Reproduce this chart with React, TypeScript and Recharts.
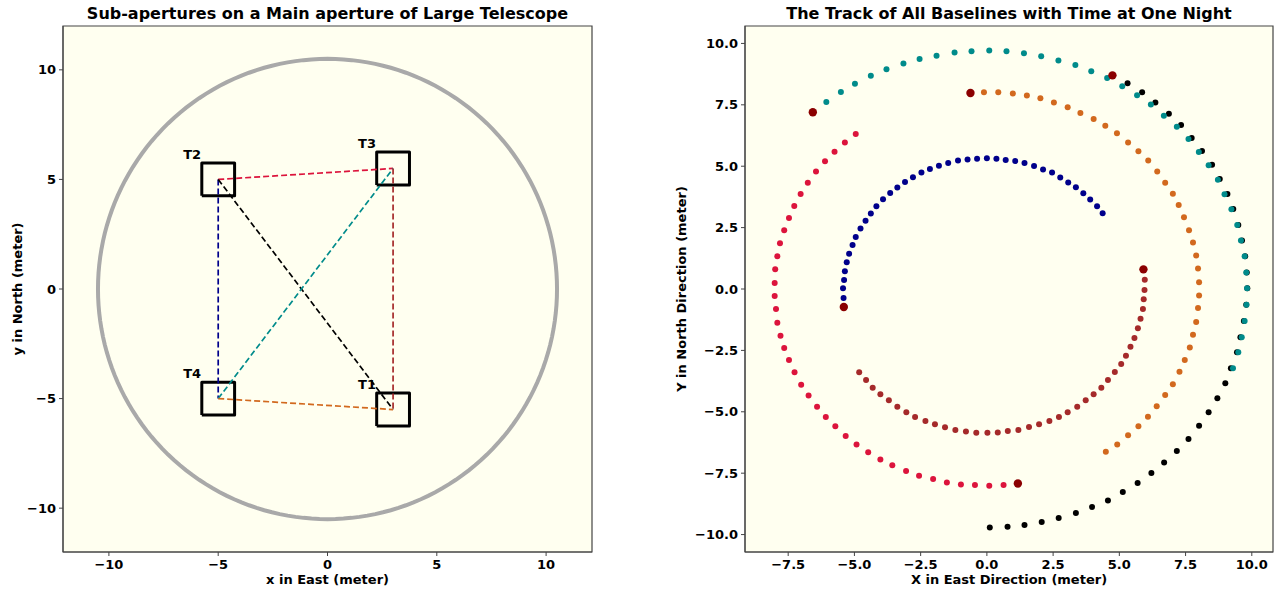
import React from "react"
import { ScatterChart, Scatter, XAxis, YAxis, CartesianGrid, ReferenceArea, Label } from "recharts"

type Pt = [number, number]

// ---- left panel: telescope layout (meters) ----
const telescopeNames = ["T1", "T2", "T3", "T4"]
const telescopeX = [3, -5, 3, -5]
const telescopeY = [-5.5, 5, 5.5, -5]
const subApertureSize = 1.5
const mainApertureRadius = 10.5
const tagOffset: Pt = [-1.6, 0.95]

// baseline pairs (indices into the telescope arrays) and their colours
const baselinePairs: Pt[] = [[1, 3], [1, 2], [1, 0], [3, 2], [2, 0], [3, 0]]
const baselineColors = ["#00008b", "#dc143c", "#000000", "#008b8b", "#a52a2a", "#d2691e"]

const layoutTicks = [-10, -5, 0, 5, 10]

// ---- right panel: baseline tracks over the night (meters) ----
const tealTrack: Pt[] = [
  [-6.06, 7.62], [-5.51, 8.02], [-4.98, 8.36], [-4.38, 8.68], [-3.79, 8.95], [-3.15, 9.18], [-2.54, 9.37],
  [-1.9, 9.5], [-1.22, 9.63], [-0.58, 9.68], [0.09, 9.71], [0.74, 9.68], [1.4, 9.6], [2.05, 9.48],
  [2.7, 9.31], [3.34, 9.12], [3.94, 8.87], [4.54, 8.59], [5.11, 8.26], [5.67, 7.89], [6.19, 7.51],
  [6.68, 7.06], [7.17, 6.61], [7.61, 6.11], [8.0, 5.58], [8.37, 5.04], [8.72, 4.45], [8.97, 3.86],
  [9.23, 3.25], [9.45, 2.61], [9.59, 1.97], [9.73, 1.33], [9.79, 0.67], [9.82, 0.03], [9.8, -0.64],
  [9.73, -1.3], [9.62, -1.96], [9.49, -2.58], [9.29, -3.23],
]
const blackTrack: Pt[] = [
  [5.31, 8.38], [5.86, 8.01], [6.36, 7.59], [6.87, 7.14], [7.33, 6.68], [7.73, 6.15], [8.12, 5.62],
  [8.5, 5.06], [8.79, 4.48], [9.08, 3.87], [9.3, 3.26], [9.49, 2.61], [9.63, 1.97], [9.75, 1.33],
  [9.81, 0.67], [9.83, 0.03], [9.79, -0.64], [9.7, -1.3], [9.57, -1.96], [9.44, -2.58], [9.21, -3.23],
  [9.0, -3.84], [8.7, -4.45], [8.37, -5.02], [8.01, -5.57], [7.61, -6.11], [7.17, -6.6], [6.69, -7.07],
  [6.21, -7.49], [5.69, -7.9], [5.13, -8.27], [4.57, -8.61], [3.97, -8.88], [3.36, -9.12], [2.71, -9.33],
  [2.07, -9.49], [1.42, -9.61], [0.78, -9.68], [0.11, -9.71],
]
const orangeTrack: Pt[] = [
  [-0.11, 8.01], [0.43, 8.01], [0.98, 7.96], [1.51, 7.88], [2.02, 7.77], [2.53, 7.59], [3.05, 7.4],
  [3.53, 7.17], [4.03, 6.92], [4.47, 6.65], [4.91, 6.34], [5.33, 5.97], [5.72, 5.61], [6.09, 5.23],
  [6.43, 4.78], [6.73, 4.33], [7.02, 3.88], [7.24, 3.42], [7.44, 2.92], [7.63, 2.39], [7.78, 1.89],
  [7.9, 1.36], [7.97, 0.83], [8.01, 0.27], [8.01, -0.26], [7.97, -0.77], [7.9, -1.34], [7.78, -1.86],
  [7.66, -2.38], [7.47, -2.89], [7.27, -3.37], [7.02, -3.88], [6.73, -4.32], [6.41, -4.77], [6.08, -5.2],
  [5.72, -5.59], [5.33, -5.96], [4.92, -6.33], [4.49, -6.63],
]
const blueTrack: Pt[] = [
  [-5.41, -0.37], [-5.43, 0.03], [-5.39, 0.37], [-5.36, 0.72], [-5.29, 1.09], [-5.2, 1.44], [-5.07, 1.79],
  [-4.95, 2.12], [-4.77, 2.46], [-4.58, 2.78], [-4.38, 3.07], [-4.17, 3.37], [-3.92, 3.65], [-3.65, 3.91],
  [-3.38, 4.13], [-3.09, 4.36], [-2.79, 4.55], [-2.47, 4.74], [-2.15, 4.89], [-1.81, 5.02], [-1.46, 5.13],
  [-1.09, 5.23], [-0.73, 5.27], [-0.37, 5.3], [0.0, 5.32], [0.36, 5.3], [0.71, 5.25], [1.07, 5.21],
  [1.42, 5.13], [1.78, 5.01], [2.12, 4.87], [2.46, 4.74], [2.77, 4.54], [3.07, 4.34], [3.36, 4.14],
  [3.64, 3.9], [3.9, 3.64], [4.16, 3.37], [4.37, 3.08],
]
const crimsonTrack: Pt[] = [
  [-4.95, 6.31], [-5.36, 5.97], [-5.75, 5.59], [-6.11, 5.2], [-6.45, 4.78], [-6.76, 4.33], [-7.03, 3.87],
  [-7.27, 3.38], [-7.47, 2.89], [-7.65, 2.39], [-7.81, 1.86], [-7.91, 1.33], [-7.99, 0.8], [-8.01, 0.24],
  [-8.01, -0.29], [-7.96, -0.81], [-7.91, -1.37], [-7.79, -1.9], [-7.65, -2.4], [-7.47, -2.89], [-7.26, -3.39],
  [-7.01, -3.9], [-6.73, -4.34], [-6.41, -4.79], [-6.08, -5.21], [-5.72, -5.59], [-5.33, -5.99], [-4.92, -6.33],
  [-4.48, -6.65], [-4.02, -6.94], [-3.57, -7.18], [-3.05, -7.41], [-2.56, -7.6], [-2.03, -7.74], [-1.51, -7.88],
  [-0.98, -7.96], [-0.45, -7.98], [0.09, -8.01], [0.63, -7.98],
]
const brownTrack: Pt[] = [
  [-4.82, -3.39], [-4.56, -3.71], [-4.31, -4.02], [-4.02, -4.29], [-3.7, -4.53], [-3.38, -4.79], [-3.04, -5.02],
  [-2.71, -5.21], [-2.32, -5.38], [-1.96, -5.51], [-1.58, -5.63], [-1.19, -5.74], [-0.79, -5.8], [-0.4, -5.85],
  [0.02, -5.85], [0.41, -5.84], [0.79, -5.78], [1.19, -5.74], [1.59, -5.62], [1.97, -5.51], [2.36, -5.38],
  [2.72, -5.21], [3.05, -5.02], [3.41, -4.79], [3.73, -4.53], [4.03, -4.29], [4.32, -4.02], [4.57, -3.71],
  [4.83, -3.38], [5.07, -3.05], [5.25, -2.72], [5.42, -2.35], [5.57, -2.0], [5.7, -1.6], [5.8, -1.21],
  [5.89, -0.81], [5.92, -0.42], [5.95, -0.04], [5.96, 0.38],
]
// end-of-night position of each baseline
const trackEnds: Pt[] = [[-6.57, 7.2], [4.74, 8.7], [-0.62, 7.98], [-5.4, -0.73], [1.17, -7.92], [5.91, 0.8]]

const trackXTicks = [-7.5, -5, -2.5, 0, 2.5, 5, 7.5, 10]
const trackYTicks = [-10, -7.5, -5, -2.5, 0, 2.5, 5, 7.5, 10]

// ---- styling ----
const font = "'DejaVu Sans', sans-serif"
const frameColor = "#444"
const bg = "#fffff0"
const tickStyle = { fontFamily: font, fontSize: 13, fontWeight: 700, fill: "#000" }
const axisTitle = { fontFamily: font, fontSize: 13, fontWeight: 700, fill: "#000" }
const rotatedTitle = { ...axisTitle, textAnchor: "middle" as const }

const minus = (s: string) => s.replace("-", "\u2212")
const fmtInt = (v: number) => minus(`${v}`)
const fmtOne = (v: number) => minus(v.toFixed(1))

const toRows = (pts: Pt[]) => pts.map(([x, y]) => ({ x, y }))

const circleOutline = () => {
  const rows = []
  for (let i = 0; i <= 180; i++) {
    const a = (i / 180) * 2 * Math.PI
    rows.push({ x: mainApertureRadius * Math.cos(a), y: mainApertureRadius * Math.sin(a) })
  }
  return rows
}

const squareOutline = (cx: number, cy: number) => {
  const h = subApertureSize / 2
  return [
    { x: cx - h, y: cy - h },
    { x: cx + h, y: cy - h },
    { x: cx + h, y: cy + h },
    { x: cx - h, y: cy + h },
    { x: cx - h, y: cy - h },
  ]
}

const noDot = () => <g />

const TelescopeTag = (p: any) => (
  <text x={p.cx} y={p.cy} style={{ fontFamily: font, fontSize: 13, fontWeight: 700, fill: "#000" }}>
    {p.payload.name}
  </text>
)

const dot = (r: number, color: string) => (p: any) => <circle cx={p.cx} cy={p.cy} r={r} fill={color} />

function Title({ left, width, text }: { left: number; width: number; text: string }) {
  return (
    <div
      style={{
        position: "absolute",
        left,
        top: 6,
        width,
        textAlign: "center",
        fontFamily: font,
        fontWeight: 700,
        fontSize: 16,
        lineHeight: "16px",
        whiteSpace: "nowrap",
      }}
    >
      {text}
    </div>
  )
}

function LayoutPanel() {
  const xDomain = [-12.1, 12.1]
  const yDomain = [-12, 12]
  const tags = telescopeNames.map((name, i) => ({
    x: telescopeX[i] + tagOffset[0],
    y: telescopeY[i] + tagOffset[1],
    name,
  }))
  return (
    <ScatterChart width={640} height={590} margin={{ top: 26, right: 48, bottom: 0, left: 0 }}>
      <CartesianGrid horizontal={false} vertical={false} fill={bg} />
      <XAxis
        type="number"
        dataKey="x"
        domain={xDomain}
        ticks={layoutTicks}
        tickFormatter={fmtInt}
        tick={tickStyle}
        tickSize={4}
        tickMargin={4}
        stroke={frameColor}
        height={38}
        allowDataOverflow
      >
        <Label value="x in East (meter)" position="bottom" offset={-15} style={axisTitle} />
      </XAxis>
      <YAxis
        type="number"
        dataKey="y"
        domain={yDomain}
        ticks={layoutTicks}
        tickFormatter={fmtInt}
        tick={tickStyle}
        tickSize={4}
        tickMargin={3}
        stroke={frameColor}
        width={63}
        allowDataOverflow
      >
        <Label value="y in North (meter)" angle={-90} position="insideLeft" offset={17} style={rotatedTitle} />
      </YAxis>
      <ReferenceArea x1={xDomain[0]} x2={xDomain[1]} y1={yDomain[0]} y2={yDomain[1]} fill="none" stroke={frameColor} strokeWidth={1.2} />
      <Scatter
        data={circleOutline()}
        fill="#a9a9a9"
        line={{ stroke: "#a9a9a9", strokeWidth: 4 }}
        shape={noDot}
        isAnimationActive={false}
      />
      {telescopeNames.map((name, i) => (
        <Scatter
          key={name}
          data={squareOutline(telescopeX[i], telescopeY[i])}
          fill="#000"
          line={{ stroke: "#000", strokeWidth: 3, strokeLinejoin: "round" }}
          shape={noDot}
          isAnimationActive={false}
        />
      ))}
      {baselinePairs.map(([a, b], i) => (
        <Scatter
          key={`b${i}`}
          data={[
            { x: telescopeX[a], y: telescopeY[a] },
            { x: telescopeX[b], y: telescopeY[b] },
          ]}
          fill={baselineColors[i]}
          line={{ stroke: baselineColors[i], strokeWidth: 1.7, strokeDasharray: "6 3" }}
          shape={noDot}
          isAnimationActive={false}
        />
      ))}
      <Scatter data={tags} shape={TelescopeTag} isAnimationActive={false} />
    </ScatterChart>
  )
}

function TrackPanel() {
  const xDomain = [-9.13, 10.8]
  const yDomain = [-10.71, 10.71]
  const r = 3
  return (
    <ScatterChart width={636} height={590} margin={{ top: 26, right: 3, bottom: 0, left: 0 }}>
      <CartesianGrid horizontal={false} vertical={false} fill={bg} />
      <XAxis
        type="number"
        dataKey="x"
        domain={xDomain}
        ticks={trackXTicks}
        tickFormatter={fmtOne}
        tick={tickStyle}
        tickSize={4}
        tickMargin={4}
        stroke={frameColor}
        height={38}
        allowDataOverflow
      >
        <Label value="X in East Direction (meter)" position="bottom" offset={-15} style={axisTitle} />
      </XAxis>
      <YAxis
        type="number"
        dataKey="y"
        domain={yDomain}
        ticks={trackYTicks}
        tickFormatter={fmtOne}
        tick={tickStyle}
        tickSize={4}
        tickMargin={3}
        stroke={frameColor}
        width={105}
        allowDataOverflow
      >
        <Label value="Y in North Direction (meter)" angle={-90} position="insideLeft" offset={41} style={rotatedTitle} />
      </YAxis>
      <ReferenceArea x1={xDomain[0]} x2={xDomain[1]} y1={yDomain[0]} y2={yDomain[1]} fill="none" stroke={frameColor} strokeWidth={1.2} />
      <Scatter data={toRows(blueTrack)} shape={dot(r, "#00008b")} isAnimationActive={false} />
      <Scatter data={toRows(crimsonTrack)} shape={dot(r, "#dc143c")} isAnimationActive={false} />
      <Scatter data={toRows(blackTrack)} shape={dot(r, "#000000")} isAnimationActive={false} />
      <Scatter data={toRows(tealTrack)} shape={dot(r, "#008b8b")} isAnimationActive={false} />
      <Scatter data={toRows(brownTrack)} shape={dot(r, "#a52a2a")} isAnimationActive={false} />
      <Scatter data={toRows(orangeTrack)} shape={dot(r, "#d2691e")} isAnimationActive={false} />
      <Scatter data={toRows(trackEnds)} shape={dot(4.2, "#8b0000")} isAnimationActive={false} />
    </ScatterChart>
  )
}

export default function App() {
  return (
    <div style={{ position: "absolute", left: 0, top: 0, width: 1276, height: 590, background: "#fff" }}>
      <div style={{ position: "absolute", left: 0, top: 0 }}>
        <LayoutPanel />
      </div>
      <div style={{ position: "absolute", left: 640, top: 0 }}>
        <TrackPanel />
      </div>
      <Title left={63} width={529} text="Sub-apertures on a Main aperture of Large Telescope" />
      <Title left={745} width={528} text="The Track of All Baselines with Time at One Night" />
    </div>
  )
}
